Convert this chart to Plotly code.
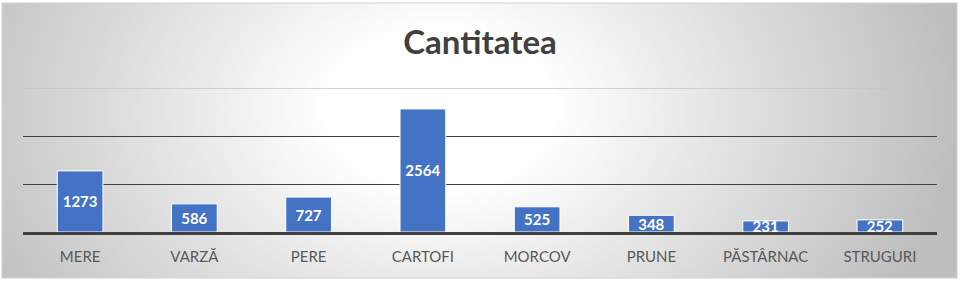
import base64, struct, zlib, math
import plotly.graph_objects as go

categories = ["MERE", "VARZĂ", "PERE", "CARTOFI", "MORCOV", "PRUNE", "PĂSTÂRNAC", "STRUGURI"]
values = [1273, 586, 727, 2564, 525, 348, 231, 252]
title_text = "Cantitatea"

W, H = 960, 284
L, R, T, B = 23, 23, 88, 52
pw, ph = W - L - R, H - T - B

# radial gradient background as PNG (style only)
def make_png(w, h, cx, cy, rx, ry):
    rows = b""
    for j in range(h):
        row = bytearray([0])
        for i in range(w):
            x = (i + 0.5) / w * W
            y = (j + 0.5) / h * H
            t = math.sqrt(((x - cx) / rx) ** 2 + ((y - cy) / ry) ** 2)
            f = min(max((t - 0.25) / 0.75, 0), 1.2)
            v = int(max(190, 255 - 56 * f))
            row += bytes([v, v, v])
        rows += bytes(row)
    def chunk(tag, data):
        c = struct.pack(">I", len(data)) + tag + data
        return c + struct.pack(">I", zlib.crc32(tag + data) & 0xffffffff)
    png = b"\x89PNG\r\n\x1a\n"
    png += chunk(b"IHDR", struct.pack(">IIBBBBB", w, h, 8, 2, 0, 0, 0))
    png += chunk(b"IDAT", zlib.compress(rows, 9))
    png += chunk(b"IEND", b"")
    return "data:image/png;base64," + base64.b64encode(png).decode()

bg = make_png(240, 71, 440, 110, 470, 340)

def px_x(x):
    return (x - L) / pw
def px_y(y):
    return (H - B - y) / ph

fig = go.Figure(go.Bar(
    x=categories, y=values,
    marker=dict(color="#4472C4", line=dict(color="white", width=1)),
    text=[str(v) for v in values],
    textposition="inside", insidetextanchor="middle",
    textfont=dict(family="Lato", size=15, color="white", weight="bold"),
    constraintext="none", cliponaxis=False,
))

fig.update_layout(
    width=W, height=H,
    margin=dict(l=L, r=R, t=T, b=B),
    paper_bgcolor="white", plot_bgcolor="rgba(0,0,0,0)",
    bargap=0.6, showlegend=False,
    title=dict(text="<b>" + title_text + "</b>", x=0.5, xanchor="center",
               y=1 - 42 / H, yanchor="middle",
               font=dict(family="Lato", size=33, color="#404040")),
    uniformtext=dict(mode=False),
    images=[dict(source=bg, xref="paper", yref="paper",
                 x=px_x(2), y=px_y(3), sizex=955 / pw, sizey=275 / ph,
                 xanchor="left", yanchor="top", sizing="stretch", layer="below")],
    shapes=[
        dict(type="rect", xref="paper", yref="paper", x0=px_x(2), x1=px_x(957),
             y0=px_y(278), y1=px_y(3), line=dict(color="#d0d0d0", width=1), layer="below"),
        dict(type="line", xref="paper", yref="y", x0=0, x1=1, y0=3000, y1=3000,
             line=dict(color="#c4c4c4", width=1.5), layer="below"),
    ],
)
fig.update_xaxes(showline=True, linecolor="#404040", linewidth=2.5, ticks="",
                 tickfont=dict(family="Lato", size=15, color="#595959"),
                 ticklabelstandoff=9, showgrid=False)
fig.update_yaxes(range=[0, 3000], showticklabels=False, tickvals=[1000, 2000],
                 showgrid=True, gridcolor="#404040", gridwidth=1.2, zeroline=False)

fig.write_html("out.html")
